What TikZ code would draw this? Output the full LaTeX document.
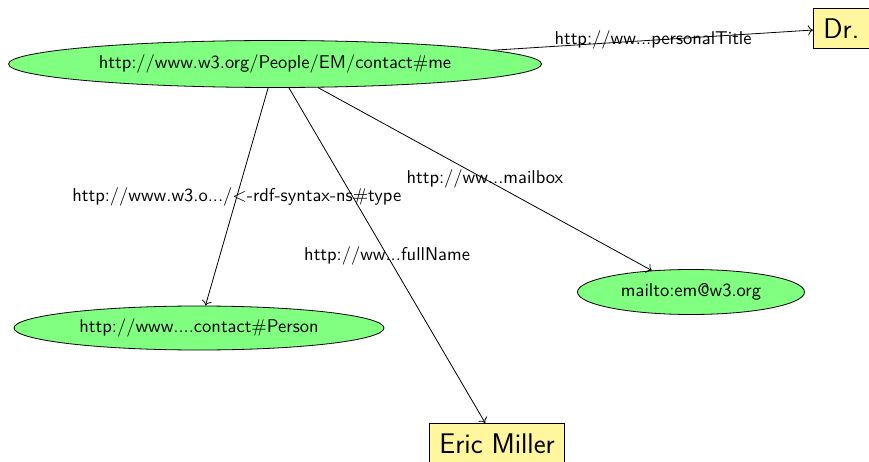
\documentclass[tikz,border=0pt]{standalone}
\usepackage{fontspec}
\newfontfamily\lmsten{lmsans10-regular}[Extension=.otf]
\usetikzlibrary{shapes.geometric,arrows.meta}
\definecolor{litcol}{RGB}{255,246,157}
\begin{document}
\begin{tikzpicture}[x=1pt,y=-1pt,
  res/.style={ellipse, draw, fill=green!50, inner sep=0pt, line width=0.8pt,
    font=\lmsten\fontsize{18.5}{22}\selectfont},
  lit/.style={rectangle, draw, fill=litcol, inner sep=10pt, anchor=north west, line width=0.8pt,
    font=\sffamily\fontsize{28.4}{32}\selectfont},
  rel/.style={draw, line width=0.8pt, -{To[length=5pt,width=10pt]}},
  lbl/.style={midway, inner sep=0pt, font=\lmsten\fontsize{18.5}{22}\selectfont}]
\useasboundingbox (0,0) rectangle (869,462);
\node[res, minimum width=533, minimum height=47] (me) at (275,64) {http://www.w3.org/People/EM/contact\#me};
\node[res, minimum width=370, minimum height=44] (person) at (199,328) {http://www....contact\#Person};
\node[res, minimum width=227, minimum height=45] (mail) at (691,292) {mailto:em@w3.org};
\node[lit] (dr) at (813,8) {Dr.};
\node[lit] (eric) at (429,423) {Eric Miller};
\draw[rel] (me) -- (dr) node[lbl] {http://ww...personalTitle};
\draw[rel] (me) -- (person) node[lbl] {http://www.w3.o.../<-rdf-syntax-ns\#type};
\draw[rel] (me) -- (eric) node[lbl] {http://ww...fullName};
\draw[rel] (me) -- (mail) node[lbl] {http://ww...mailbox};
\end{tikzpicture}
\end{document}
